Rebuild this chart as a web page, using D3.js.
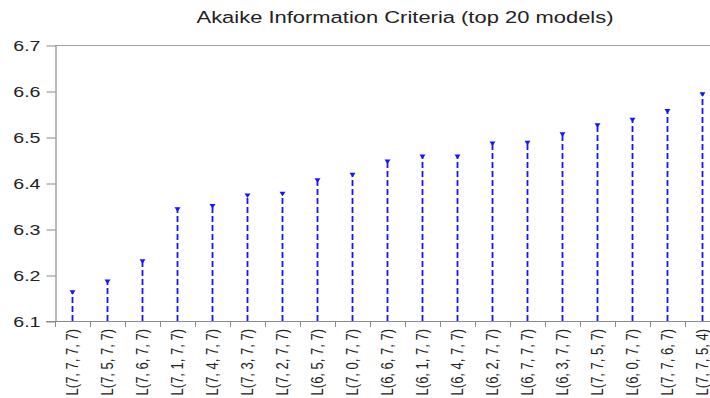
<!DOCTYPE html>
<html>
<head>
<meta charset="utf-8">
<script src="https://cdn.jsdelivr.net/npm/d3@7"></script>
<style>
  html, body { margin: 0; padding: 0; background: #fff; }
  svg { display: block; }
</style>
</head>
<body>
<svg id="chart" width="710" height="398"></svg>
<script>
const categories = ["L(7, 7, 7, 7)", "L(7, 5, 7, 7)", "L(7, 6, 7, 7)", "L(7, 1, 7, 7)", "L(7, 4, 7, 7)",
  "L(7, 3, 7, 7)", "L(7, 2, 7, 7)", "L(6, 5, 7, 7)", "L(7, 0, 7, 7)", "L(6, 6, 7, 7)",
  "L(6, 1, 7, 7)", "L(6, 4, 7, 7)", "L(6, 2, 7, 7)", "L(6, 7, 7, 7)", "L(6, 3, 7, 7)",
  "L(7, 7, 5, 7)", "L(6, 0, 7, 7)", "L(7, 7, 6, 7)", "L(7, 7, 5, 4)"];
const aicValues = [6.166, 6.189, 6.233, 6.346, 6.353, 6.376, 6.380, 6.409, 6.421, 6.450,
  6.461, 6.461, 6.489, 6.491, 6.509, 6.529, 6.541, 6.560, 6.596];
const yTicks = [6.1, 6.2, 6.3, 6.4, 6.5, 6.6, 6.7];
const titleText = "Akaike Information Criteria (top 20 models)";

(function () {
const svg = d3.select("#chart");
const mLeft = 55, mTop = 45, mBottom = 321, step = 35;
const mRight = mLeft + step * categories.length;

const x = d3.scaleBand().domain(categories).range([mLeft, mRight]).padding(0);
const y = d3.scaleLinear().domain([6.1, 6.7]).range([mBottom, mTop]);

const axisColor = "#8a8a8a";
const textColor = "#222";

// title
svg.append("text")
  .attr("transform", "translate(405,22.5) scale(1.33,1)")
  .attr("text-anchor", "middle")
  .attr("font-family", "Arial, 'Liberation Sans', sans-serif")
  .attr("font-size", 16.5)
  .attr("fill", textColor)
  .text(titleText);

// top border
svg.append("line")
  .attr("x1", mLeft).attr("x2", 710)
  .attr("y1", mTop + 0.5).attr("y2", mTop + 0.5)
  .attr("stroke", "#a0a0a0").attr("stroke-width", 1);

// y axis
const yAxis = svg.append("g")
  .attr("transform", `translate(${mLeft + 0.5},0.5)`)
  .call(d3.axisLeft(y).tickValues(yTicks).tickSize(9).tickSizeOuter(0).tickFormat(d3.format(".1f")));
yAxis.select(".domain").attr("stroke", axisColor).attr("stroke-width", 1.2);
yAxis.selectAll(".tick line").attr("stroke", axisColor);
yAxis.selectAll(".tick text")
  .attr("x", null).attr("dy", "0.35em")
  .attr("transform", "translate(-15,0) scale(1.4,1)")
  .attr("font-family", "Arial, 'Liberation Sans', sans-serif")
  .attr("font-size", 14)
  .attr("fill", textColor);

// x axis (ticks at band boundaries)
const xg = svg.append("g");
xg.append("line")
  .attr("x1", mLeft - 9).attr("x2", 710)
  .attr("y1", mBottom + 0.5).attr("y2", mBottom + 0.5)
  .attr("stroke", axisColor).attr("stroke-width", 1.2);
xg.selectAll("line.xt")
  .data(categories)
  .join("line")
  .attr("class", "xt")
  .attr("x1", d => x(d) + 0.5).attr("x2", d => x(d) + 0.5)
  .attr("y1", mBottom).attr("y2", mBottom + 6)
  .attr("stroke", axisColor);

xg.selectAll("text.xl")
  .data(categories)
  .join("text")
  .attr("class", "xl")
  .attr("transform", d => `translate(${x(d) + x.bandwidth() / 2 + 5},329) rotate(-90) scale(1,1.2)`)
  .attr("text-anchor", "end")
  .attr("font-family", "Arial, 'Liberation Sans', sans-serif")
  .attr("font-size", 13)
  .attr("fill", textColor)
  .text(d => d);

// stems
const data = categories.map((c, i) => ({ c, v: aicValues[i] }));
const blue = "#1414ff";
svg.append("g").selectAll("line")
  .data(data)
  .join("line")
  .attr("x1", d => x(d.c) + x.bandwidth() / 2)
  .attr("x2", d => x(d.c) + x.bandwidth() / 2)
  .attr("y1", mBottom)
  .attr("y2", d => y(d.v))
  .attr("stroke", blue)
  .attr("stroke-width", 1.8)
  .attr("stroke-dasharray", "6,3");

svg.append("g").selectAll("path")
  .data(data)
  .join("path")
  .attr("d", d => {
    const cx = x(d.c) + x.bandwidth() / 2, cy = y(d.v);
    return `M${cx - 3},${cy - 0.5}L${cx + 3},${cy - 0.5}L${cx},${cy + 4}Z`;
  })
  .attr("fill", blue);
})();
</script>
</body>
</html>
